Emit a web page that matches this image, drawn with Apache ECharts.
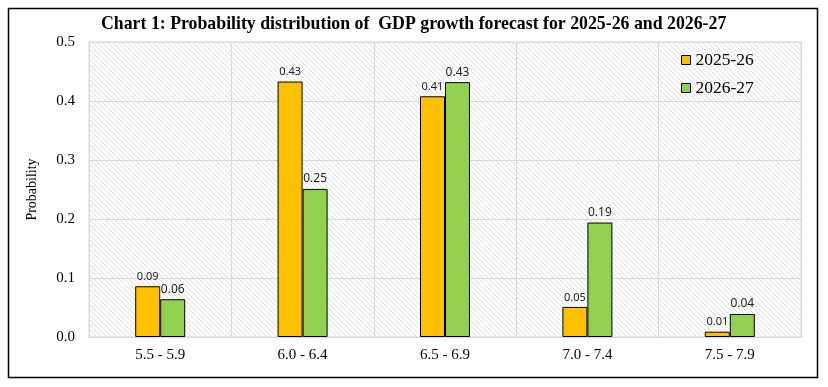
<!DOCTYPE html>
<html><head><meta charset="utf-8">
<script src="https://cdn.jsdelivr.net/npm/echarts@6/dist/echarts.min.js"></script>
<style>html,body{margin:0;padding:0;background:#fff}#c{width:828px;height:387px}</style>
</head><body><div id="c"></div>
<script>
const categories = ['5.5 - 5.9','6.0 - 6.4','6.5 - 6.9','7.0 - 7.4','7.5 - 7.9'];
const seriesNames = ['2025-26','2026-27'];
const values2025 = [0.086, 0.433, 0.408, 0.051, 0.009];
const values2026 = [0.064, 0.251, 0.432, 0.194, 0.039];
const yTicks = [0, 0.1, 0.2, 0.3, 0.4, 0.5];

// hatch pattern
const pc = document.createElement('canvas');
pc.width = 5; pc.height = 5;
const g = pc.getContext('2d');
g.fillStyle = '#fff'; g.fillRect(0,0,5,5);
g.strokeStyle = '#e0e0e0'; g.lineWidth = 1;
g.beginPath();
g.moveTo(0,0); g.lineTo(5,5);
g.moveTo(-3,2); g.lineTo(3,8);
g.moveTo(2,-3); g.lineTo(8,3);
g.stroke();

const chart = echarts.init(document.getElementById('c'), null, {renderer:'canvas'});
const serif = '"Liberation Serif", "DejaVu Serif", serif';
const lbl = {show:true, position:'top', distance:4, fontFamily:'"Noto Sans", sans-serif', fontSize:11, color:'#222',
  formatter: p => p.value.toFixed(2)};
chart.setOption({
  animation:false,
  graphic:[
    {type:'rect', shape:{x:8.5,y:8.5,width:809,height:369}, style:{fill:'none', stroke:'#000', lineWidth:1.5}, z:100},
  ],
  title:{text:'Chart 1: Probability distribution of  GDP growth forecast for 2025-26 and 2026-27',
    left:96, top:10, textStyle:{fontFamily:serif, fontWeight:'bold', fontSize:17.8, color:'#000'}},
  grid:{left:89, right:27, top:42, bottom:50, show:true, backgroundColor:{image:pc, repeat:'repeat'}, borderColor:'#d9d9d9', borderWidth:1},
  legend:{orient:'vertical', left:676, top:46, itemWidth:9, itemHeight:9, itemGap:10, icon:'rect',
    textStyle:{fontFamily:serif, fontSize:17.5, color:'#000'},
    data:seriesNames.map(n=>({name:n, itemStyle:{borderColor:'#000', borderWidth:1}}))},
  xAxis:{type:'category', data:categories,
    axisLine:{lineStyle:{color:'#d9d9d9'}}, axisTick:{show:false},
    splitLine:{show:true, lineStyle:{color:'#d9d9d9'}},
    axisLabel:{fontFamily:serif, fontSize:15, color:'#000', margin:11}},
  yAxis:{type:'value', min:0, max:0.5, interval:0.1, name:'Probability', nameLocation:'middle', nameGap:50,
    nameTextStyle:{fontFamily:serif, fontSize:14, color:'#000'},
    axisLine:{show:false}, axisTick:{show:false},
    splitLine:{lineStyle:{color:'#d9d9d9'}},
    axisLabel:{fontFamily:serif, fontSize:15, color:'#000', margin:14, formatter:v=>v.toFixed(1),
      customValues: yTicks}},
  series:[
    {name:seriesNames[0], type:'bar', data:values2025, barWidth:25, barGap:'0%',
      itemStyle:{color:'#FFC000', borderColor:'#000', borderWidth:1}, label:lbl},
    {name:seriesNames[1], type:'bar', data:values2026, barWidth:25, barGap:'0%',
      itemStyle:{color:'#92D050', borderColor:'#000', borderWidth:1}, label:Object.assign({}, lbl, {fontSize:12})}
  ]
});
</script></body></html>
